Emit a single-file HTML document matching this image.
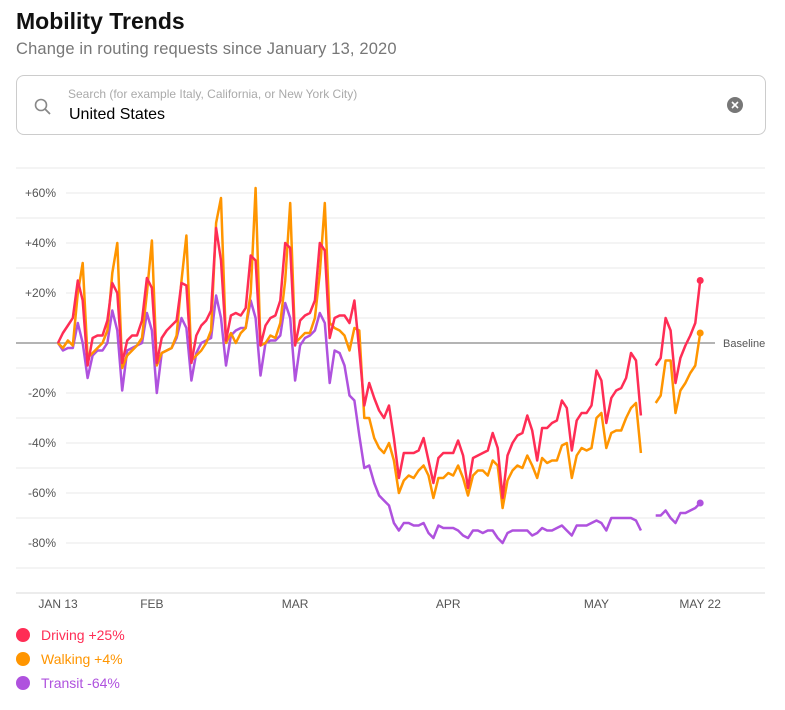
<!DOCTYPE html>
<html><head><meta charset="utf-8"><style>
body{margin:0;width:785px;height:710px;background:#fff;font-family:"Liberation Sans",sans-serif;overflow:hidden;position:relative}
.t{position:absolute;white-space:nowrap}
</style></head><body>
<div class="t" style="left:16px;top:8px;font-size:23px;font-weight:bold;color:#111">Mobility Trends</div>
<div class="t" style="left:16px;top:40px;font-size:16.5px;letter-spacing:0.15px;color:#777">Change in routing requests since January 13, 2020</div>
<div style="position:absolute;left:16px;top:75px;width:748px;height:58px;border:1px solid #ccc;border-radius:8px">
 <svg style="position:absolute;left:17px;top:22px" width="18" height="18"><circle cx="7" cy="7" r="5.5" fill="none" stroke="#888" stroke-width="1.6"/><line x1="11" y1="11" x2="16" y2="16" stroke="#888" stroke-width="1.8"/></svg>
 <div class="t" style="left:51px;top:11px;font-size:12px;color:#aaa">Search (for example Italy, California, or New York City)</div>
 <div class="t" style="left:52px;top:30px;font-size:16px;color:#000">United States</div>
 <svg style="position:absolute;left:709px;top:20px" width="18" height="18"><circle cx="9" cy="9" r="8" fill="#777"/><path d="M6 6L12 12M12 6L6 12" stroke="#fff" stroke-width="1.6"/></svg>
</div>
<svg id="chart" width="785" height="620" style="position:absolute;left:0;top:0"></svg>
<div>
 <div class="t" style="left:16px;top:627px;font-size:14px;color:#ff2d55"><span style="display:inline-block;width:14px;height:14px;border-radius:50%;background:#ff2d55;vertical-align:-2px;margin-right:11px"></span>Driving +25%</div>
 <div class="t" style="left:16px;top:651px;font-size:14px;color:#ff9500"><span style="display:inline-block;width:14px;height:14px;border-radius:50%;background:#ff9500;vertical-align:-2px;margin-right:11px"></span>Walking +4%</div>
 <div class="t" style="left:16px;top:675px;font-size:14px;color:#af52de"><span style="display:inline-block;width:14px;height:14px;border-radius:50%;background:#af52de;vertical-align:-2px;margin-right:11px"></span>Transit -64%</div>
</div>
<script>
const driving=[0,4,7,10,25,17,-9, 2,3,3,9,24,20,-8, 1,3,3,9,26,22,-8, 2,5,7,9,24,23,-8, 3,7,9,13,46,33,1, 11,12,11,14,35,33,-1, 7,10,11,17,40,38,-1, 9,11,12,17,40,37,2,
10,11,11,8,17,-3,-25,-16,-22,-27,-30,-25,-38,-54,-44,-44,-44,-43,-38,-47,-56,-46,-44,-44,-44,-39,-45,-58,-46,-45,-44,-43,-36,-42,-62,-45,-40,-37,-36,-29,-35,-47,
-34,-34,-32,-31,-23,-26,-43,-31,-28,-28,-25,-11,-15,-32,-22,-19,-18,-14,-4,-7,-29,null,null,-9,-6,10,5,-16,-6,-1,3,8,25];
const walking=[0,-2,1,-1,20,32,-6, -4,-2,0,5,28,40,-10, -5,-3,-1,2,20,41,-9, -4,-3,-2,3,25,43,-7, -5,-3,0,5,48,58,0, 4,0,4,6,20,62,-1, 0,3,2,8,25,56,0, 2,4,4,10,28,56,8,
6,5,3,-3,6,5,-30,-30,-38,-42,-44,-40,-47,-60,-55,-53,-54,-51,-49,-53,-62,-54,-54,-52,-53,-49,-54,-61,-53,-51,-51,-53,-47,-49,-66,-55,-51,-49,-50,-45,-49,-54,
-46,-48,-47,-47,-41,-40,-54,-45,-42,-43,-42,-30,-28,-42,-36,-35,-35,-30,-26,-24,-44,null,null,-24,-21,-7,-7,-28,-19,-16,-12,-9,4];
const transit=[0,-3,-2,-2,8,0,-14, -5,-3,-3,0,13,5,-19, -3,-2,-1,0,12,5,-20, -4,-3,-2,2,10,6,-15, -4,0,1,2,19,10,-9, 3,5,6,6,17,10,-13, 0,1,1,3,16,10,-15, -1,2,3,5,12,8,-16,
-3,-4,-9,-21,-23,-37,-50,-49,-56,-61,-63,-65,-72,-75,-72,-72,-73,-73,-72,-76,-78,-73,-74,-74,-74,-75,-77,-78,-75,-75,-76,-75,-75,-78,-80,-76,-75,-75,-75,-75,-77,-76,
-74,-75,-75,-74,-73,-75,-77,-73,-73,-73,-72,-71,-72,-75,-70,-70,-70,-70,-70,-71,-75,null,null,-69,-69,-67,-70,-72,-68,-68,-67,-66,-64];
const gridValues=[70,60,50,40,30,20,10,0,-10,-20,-30,-40,-50,-60,-70,-80,-90,-100];
const yTickValues=[60,40,20,-20,-40,-60,-80];
const yTickLabels=["+60%","+40%","+20%","-20%","-40%","-60%","-80%"];
const xTickDays=[0,19,48,79,109,130];
const xTickLabels=["JAN 13","FEB","MAR","APR","MAY","MAY 22"];

const NS="http://www.w3.org/2000/svg",svg=document.getElementById('chart');
const X=d=>58+d*4.94, Y=v=>343-v*2.5;
function mk(t,a){const e=document.createElementNS(NS,t);for(const k in a)e.setAttribute(k,a[k]);svg.appendChild(e);return e;}
gridValues.forEach(v=>{
  if(v===0)return;
  const labeled=yTickValues.includes(v);
  const l=mk('line',{x1:labeled?66:16,x2:765,y1:Y(v),y2:Y(v),stroke:v===-100?'#e6e6e6':'#f0f0f0','stroke-width':1.5});
  
  
});
yTickValues.forEach((v,i)=>{
  const t=mk('text',{x:56,y:Y(v)+4,'text-anchor':'end','font-size':12,fill:'#555','font-family':'Liberation Sans, sans-serif'});
  t.textContent=yTickLabels[i];
  
  
});
const bl=mk('line',{x1:16,x2:715,y1:Y(0),y2:Y(0),stroke:'#888','stroke-width':1.2});


const bt=mk('text',{x:723,y:Y(0)+4,'font-size':11,fill:'#555','font-family':'Liberation Sans, sans-serif'});
bt.textContent='Baseline';


xTickDays.forEach((d,i)=>{
  const t=mk('text',{x:X(d),y:608,'text-anchor':'middle','font-size':12,fill:'#555','font-family':'Liberation Sans, sans-serif'});
  t.textContent=xTickLabels[i];
  
  
});
function series(arr,color,name){
  let d='',pen=false;
  arr.forEach((v,i)=>{if(v===null){pen=false;return;}d+=(pen?'L':'M')+X(i).toFixed(1)+' '+Y(v).toFixed(1);pen=true;});
  const p=mk('path',{d:d,fill:'none',stroke:color,'stroke-width':2.5,'stroke-linejoin':'round'});
  
  
  const last=arr.length-1;
  const c=mk('circle',{cx:X(last),cy:Y(arr[last]),r:3.5,fill:color});
  
  
}
series(transit,'#af52de','transit');
series(walking,'#ff9500','walking');
series(driving,'#ff2d55','driving');
</script>
</body></html>
